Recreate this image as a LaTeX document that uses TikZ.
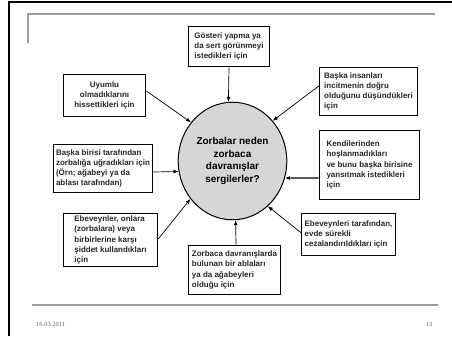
\documentclass[tikz,border=0pt]{standalone}
\usepackage{fontspec}
\setmainfont{Liberation Sans}
\newfontfamily\footfont{Liberation Serif}
\usetikzlibrary{shapes.geometric,arrows.meta,calc}
\begin{document}
\begin{tikzpicture}[x=1bp,y=-1bp,
  box/.style={draw=black,line width=0.9pt,fill=white,inner sep=0pt,align=left,
    font=\bfseries\fontsize{8}{10.3}\selectfont,text=black!85},
  arr/.style={line width=0.7pt,-{Latex[length=5pt,width=4pt]}},
  rule/.style={draw=black!38,line width=2pt},
  frame/.style={draw=black,line width=2.2pt},
  foot/.style={font=\footfont\fontsize{6.5}{8}\selectfont,text=black!60,inner sep=0pt}]
\useasboundingbox (0,0) rectangle (452,336);
% slide frame and rules
\draw[frame] (9,336) -- (9,2) -- (452,2);
\draw[rule] (28,43) -- (28,14) -- (435,14);
\draw[rule] (32,305) -- (438,305);
\node[foot,anchor=west] (date) at (36,324) {16.03.2011};
\node[foot] (pg) at (429,324) {13};
% centre
\node[ellipse,draw=black,line width=1pt,fill=black!16,minimum width=109,minimum height=118,inner sep=0pt,
  align=center,font=\bfseries\fontsize{10}{12.6}\selectfont] (c) at (232.5,161)
  {Zorbalar neden\\zorbaca\\davranışlar\\sergilerler?};
% boxes
\node[box,minimum width=82,minimum height=41] (top) at (229,46.5)
  {Gösteri yapma ya\\da sert görünmeyi\\istedikleri için};
\node[box,align=center,minimum width=83,minimum height=43] (ul) at (104.5,95.5)
  {Uyumlu\\olmadıklarını\\hissettikleri için};
\node[box,minimum width=99,minimum height=49] (ur) at (368.5,91.5)
  {Başka insanları\\incitmenin doğru\\olduğunu düşündükleri\\için};
\node[box,minimum width=100,minimum height=49] (lm) at (103,168.5)
  {Başka birisi tarafından\\zorbalığa uğradıkları için\\(Örn; ağabeyi ya da\\ablası tarafından)};
\node[box,minimum width=101,minimum height=70] (rm) at (369.5,165)
  {Kendilerinden\\hoşlanmadıkları\\ve bunu başka birisine\\yansıtmak istedikleri\\için};
\node[box,minimum width=95,minimum height=54] (ll) at (110.5,240)
  {Ebeveynler, onlara\\(zorbalara) veya\\birbirlerine karşı\\şiddet kullandıkları\\için};
\node[box,minimum width=95,minimum height=43] (lr) at (348.5,234.5)
  {Ebeveynleri tarafından,\\evde sürekli\\cezalandırıldıkları için};
\node[box,minimum width=93,minimum height=50] (b) at (234.5,270)
  {Zorbaca davranışlarda\\bulunan bir ablaları\\ya da ağabeyleri\\olduğu için};
% arrows
\draw[arr] (top.south) -- (c.94);
\draw[arr] ($(ul.east)+(0,-4.5)$) -- (c.137);
\draw[arr] ($(ur.west)+(0,-5.5)$) -- (c.45);
\draw[arr] ($(lm.east)+(0,3.5)$) -- (c.191.6);
\draw[arr,line width=1.1pt] ($(rm.west)+(0,13)$) -- (c.-18);
\draw[arr] ($(ll.east)+(0,-1)$) -- (c.222);
\draw[arr] ($(lr.west)+(0,-2)$) -- (c.-52);
\draw[arr] ($(b.north)+(1.5,0)$) -- (c.-87);
\end{tikzpicture}
\end{document}
